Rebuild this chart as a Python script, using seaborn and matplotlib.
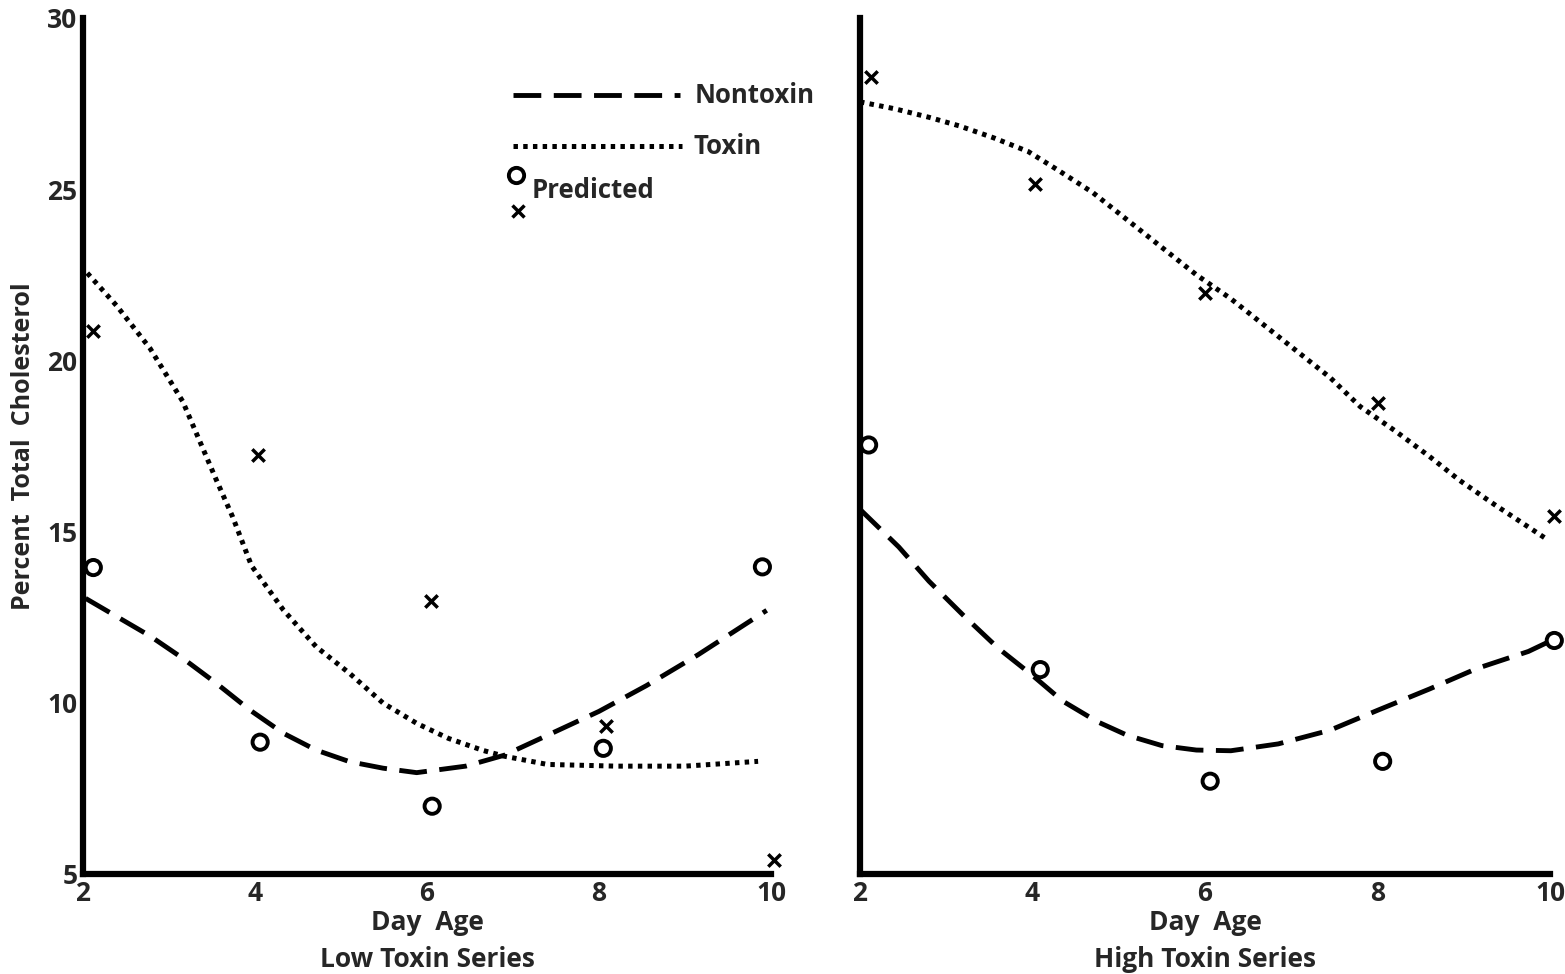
import seaborn as sns
import matplotlib.pyplot as plt

low_circle_x = [2.12, 4.06, 6.06, 8.05, 9.9]
low_circle_y = [13.95, 8.85, 6.98, 8.67, 13.97]
low_cross_x = [2.12, 4.03, 6.05, 8.08, 10.03]
low_cross_y = [20.85, 17.24, 12.98, 9.31, 5.41]

high_circle_x = [2.1, 4.09, 6.06, 8.06, 10.05]
high_circle_y = [17.53, 10.97, 7.71, 8.29, 11.82]
high_cross_x = [2.13, 4.03, 6.0, 8.0, 10.05]
high_cross_y = [28.28, 25.16, 21.96, 18.75, 15.46]

# curvas
low_nontox_x = [2.03, 2.78, 3.16, 3.55, 3.94, 4.33, 4.71, 5.10, 5.49, 5.88, 6.45, 6.9, 7.4,
                8.0, 8.55, 9.15, 9.95]
low_nontox_y = [13.05, 11.95, 11.3, 10.57, 9.79, 9.11, 8.62, 8.28, 8.09, 7.96, 8.15, 8.47, 9.05,
                9.75, 10.5, 11.4, 12.7]
low_tox_x = [2.05, 2.39, 2.78, 3.16, 3.55, 3.74, 3.96, 4.33, 4.71, 5.10, 5.49, 5.88, 6.25, 6.65,
             6.9, 7.4, 8.2, 9.0, 9.85]
low_tox_y = [22.55, 21.6, 20.35, 18.8, 16.51, 15.43, 14.0, 12.71, 11.64, 10.86, 9.99, 9.4, 8.96, 8.61,
             8.44, 8.2, 8.15, 8.15, 8.29]

high_nontox_x = [2.0, 2.45, 2.8, 3.2, 3.6, 4.0, 4.35, 4.75, 5.1, 5.5, 5.9, 6.3, 6.85, 7.45,
                 8.0, 8.6, 9.15, 9.75, 10.0]
high_nontox_y = [15.65, 14.55, 13.55, 12.55, 11.6, 10.8, 10.05, 9.45, 9.05, 8.75, 8.62, 8.6, 8.8, 9.2,
                 9.78, 10.4, 11.0, 11.5, 11.8]
high_tox_x = [2.0, 2.4, 2.8, 3.15, 3.55, 3.95, 4.3, 4.7, 5.1, 5.5, 5.9, 6.3, 6.65, 7.05, 7.45,
              7.8, 8.2, 8.6, 8.95, 9.35, 9.95]
high_tox_y = [27.55, 27.35, 27.1, 26.85, 26.5, 26.1, 25.55, 24.9, 24.1, 23.3, 22.5, 21.8, 21.1, 20.3, 19.5,
              18.65, 17.95, 17.2, 16.5, 15.8, 14.8]

xticks = [2, 4, 6, 8, 10]
yticks = [5, 10, 15, 20, 25, 30]

sns.set_style('white')
plt.rcParams['font.family'] = ['Open Sans', 'DejaVu Sans']
plt.rcParams['font.weight'] = 'bold'
plt.rcParams['lines.scale_dashes'] = False

DASH = (0, (20, 9))
DOT = (0, (3.2, 3.8))

fig = plt.figure(figsize=(15.65, 9.74), dpi=100)
W, H = 1565, 974
ax1 = fig.add_axes([83 / W, 1 - 874 / H, 688 / W, 856 / H])
ax2 = fig.add_axes([860 / W, 1 - 874 / H, 690 / W, 856 / H])


def panel(ax, nx, ny, tx, ty, cx, cy, xx, xy, label):
    sns.lineplot(x=nx, y=ny, ax=ax, color='black', lw=3.5, linestyle=DASH, sort=False, estimator=None)
    sns.lineplot(x=tx, y=ty, ax=ax, color='black', lw=3.6, linestyle=DOT, sort=False, estimator=None)
    sns.scatterplot(x=cx, y=cy, ax=ax, marker='o', s=120, facecolors='none', edgecolor='black',
                    linewidth=2.8, clip_on=False, zorder=5)
    sns.scatterplot(x=xx, y=xy, ax=ax, marker='x', s=80, color='black', linewidth=2.5,
                    clip_on=False, zorder=5)
    ax.set_xlim(2, 10)
    ax.set_ylim(5, 30)
    ax.set_xticks(xticks)
    ax.set_yticks(yticks)
    ax.tick_params(length=0, labelsize=19, pad=4)
    for t in ax.get_xticklabels() + ax.get_yticklabels():
        t.set_fontweight('bold')
    for s in ['top', 'right']:
        ax.spines[s].set_visible(False)
    for s in ['left', 'bottom']:
        ax.spines[s].set_linewidth(4.5)
        ax.spines[s].set_color('black')
    ax.set_xlabel('Day  Age\n' + label, fontsize=19, fontweight='bold', linespacing=1.45, labelpad=2)


panel(ax1, low_nontox_x, low_nontox_y, low_tox_x, low_tox_y,
      low_circle_x, low_circle_y, low_cross_x, low_cross_y, 'Low Toxin Series')
panel(ax2, high_nontox_x, high_nontox_y, high_tox_x, high_tox_y,
      high_circle_x, high_circle_y, high_cross_x, high_cross_y, 'High Toxin Series')

ax2.set_yticklabels([])
ax1.set_ylabel('Percent  Total  Cholesterol', fontsize=18, fontweight='bold', labelpad=8)

# leyenda dibujada a mano
tr = ax1.transAxes
ax1.plot([0.625, 0.868], [0.910, 0.910], transform=tr, color='black', lw=3.5, linestyle=DASH)
ax1.text(0.8895, 0.910, 'Nontoxin', transform=tr, fontsize=18.5, fontweight='bold', va='center')
ax1.plot([0.625, 0.871], [0.850, 0.850], transform=tr, color='black', lw=3.6, linestyle=DOT)
ax1.text(0.887, 0.850, 'Toxin', transform=tr, fontsize=18.5, fontweight='bold', va='center')
ax1.plot([0.629], [0.8166], transform=tr, marker='o', ms=11, mfc='none', mec='black', mew=2.8)
ax1.plot([0.632], [0.7745], transform=tr, marker='x', ms=9, color='black', mew=2.5)
ax1.text(0.6526, 0.798, 'Predicted', transform=tr, fontsize=18.5, fontweight='bold', va='center')

fig.savefig('out.png', dpi=100, facecolor='white')
